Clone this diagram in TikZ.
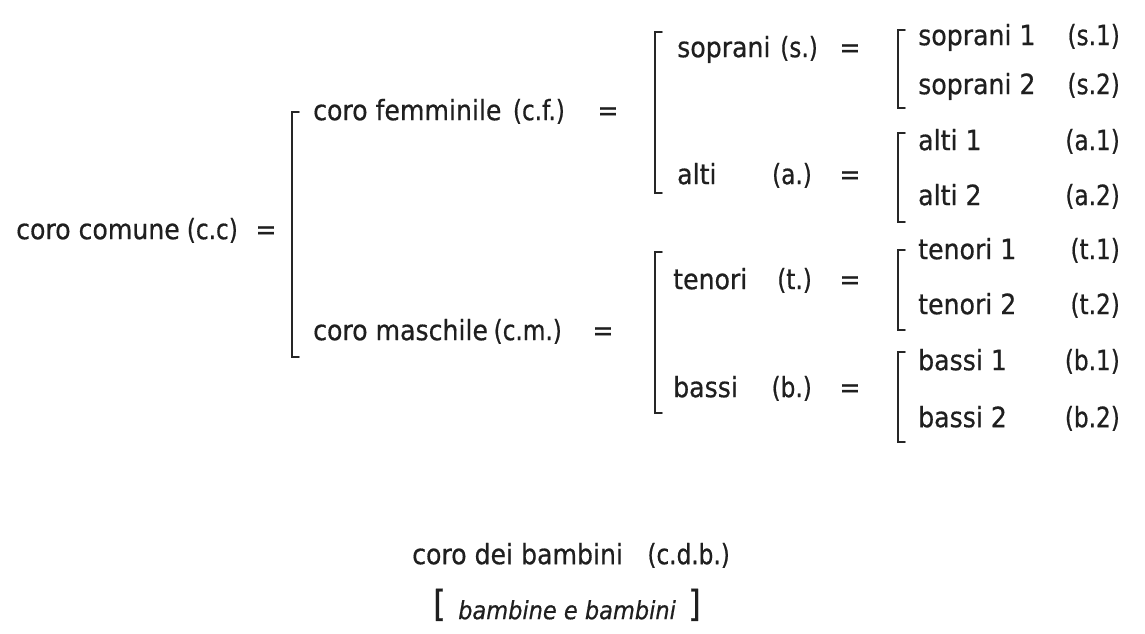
\documentclass[tikz,border=0pt]{standalone}
\usepackage{fontspec}
\newfontfamily\chorus[FakeBold=0.6]{DejaVu Sans Condensed}
\newfontfamily\chorusnarrow[FakeBold=0.6,FakeStretch=0.92]{DejaVu Sans Condensed}
\begin{document}
\begin{tikzpicture}[x=1pt,y=-1pt,
  txt/.style={inner sep=0pt,anchor=mid west,text=black!88,font=\chorus\fontsize{28}{32}\selectfont},
  abbr/.style={txt,anchor=mid east,font=\chorusnarrow\fontsize{28}{32}\selectfont},
  eq/.style={txt,anchor=mid},
  brk/.style={draw=black!85,line width=1.5pt,line cap=round,line join=miter}]
\useasboundingbox (0,0) rectangle (1145,633);
% square bracket: left edge x, top y, bottom y
\newcommand\chbrk[3]{\draw[brk] (#1+7,#2) -- (#1,#2) -- (#1,#3) -- (#1+7,#3);}

% common chorus
\node[txt]  (cc)  at (16,237)  {coro comune};
\node[abbr] (ccA) at (238,237) {(c.c)};
\node[eq]   (ccE) at (266,237) {=};
\chbrk{292}{112}{357}

% female and male choruses
\node[txt]  (cf)  at (313,118) {coro femminile};
\node[abbr] (cfA) at (565,118) {(c.f.)};
\node[eq]   (cfE) at (608,118) {=};
\node[txt]  (cm)  at (313,338) {coro maschile};
\node[abbr] (cmA) at (562,338) {(c.m.)};
\node[eq]   (cmE) at (603,338) {=};
\chbrk{655}{32}{193}
\chbrk{655}{252}{413}

% voices
\node[txt]  (s)  at (677,55)  {soprani};
\node[abbr] (sA) at (818,55)  {(s.)};
\node[eq]   (sE) at (850,55)  {=};
\node[txt]  (a)  at (677,182) {alti};
\node[abbr] (aA) at (812,182) {(a.)};
\node[eq]   (aE) at (850,182) {=};
\node[txt]  (t)  at (673,287) {tenori};
\node[abbr] (tA) at (812,287) {(t.)};
\node[eq]   (tE) at (850,287) {=};
\node[txt]  (b)  at (673,395) {bassi};
\node[abbr] (bA) at (812,395) {(b.)};
\node[eq]   (bE) at (850,395) {=};
\chbrk{898}{30}{108}
\chbrk{898}{133}{222}
\chbrk{898}{250}{330}
\chbrk{898}{352}{442}

% divided voices
\node[txt]  (s1)  at (918,43)   {soprani 1};
\node[abbr] (s1A) at (1120,43)  {(s.1)};
\node[txt]  (s2)  at (918,92)   {soprani 2};
\node[abbr] (s2A) at (1120,92)  {(s.2)};
\node[txt]  (a1)  at (918,148)  {alti 1};
\node[abbr] (a1A) at (1120,148) {(a.1)};
\node[txt]  (a2)  at (918,203)  {alti 2};
\node[abbr] (a2A) at (1120,203) {(a.2)};
\node[txt]  (t1)  at (918,257)  {tenori 1};
\node[abbr] (t1A) at (1120,257) {(t.1)};
\node[txt]  (t2)  at (918,312)  {tenori 2};
\node[abbr] (t2A) at (1120,312) {(t.2)};
\node[txt]  (b1)  at (918,368)  {bassi 1};
\node[abbr] (b1A) at (1120,368) {(b.1)};
\node[txt]  (b2)  at (918,425)  {bassi 2};
\node[abbr] (b2A) at (1120,425) {(b.2)};

% children's chorus
\node[txt]  (cdb)  at (412,562) {coro dei bambini};
\node[abbr] (cdbA) at (730,562) {(c.d.b.)};
\node[txt,font=\chorus\itshape\fontsize{25}{29}\selectfont] (bb) at (458,617) {bambine e bambini};
\node[txt,font=\chorus\fontsize{36}{40}\selectfont] (bbL) at (433,614) {[};
\node[txt,font=\chorus\fontsize{36}{40}\selectfont] (bbR) at (688,614) {]};
\end{tikzpicture}
\end{document}
